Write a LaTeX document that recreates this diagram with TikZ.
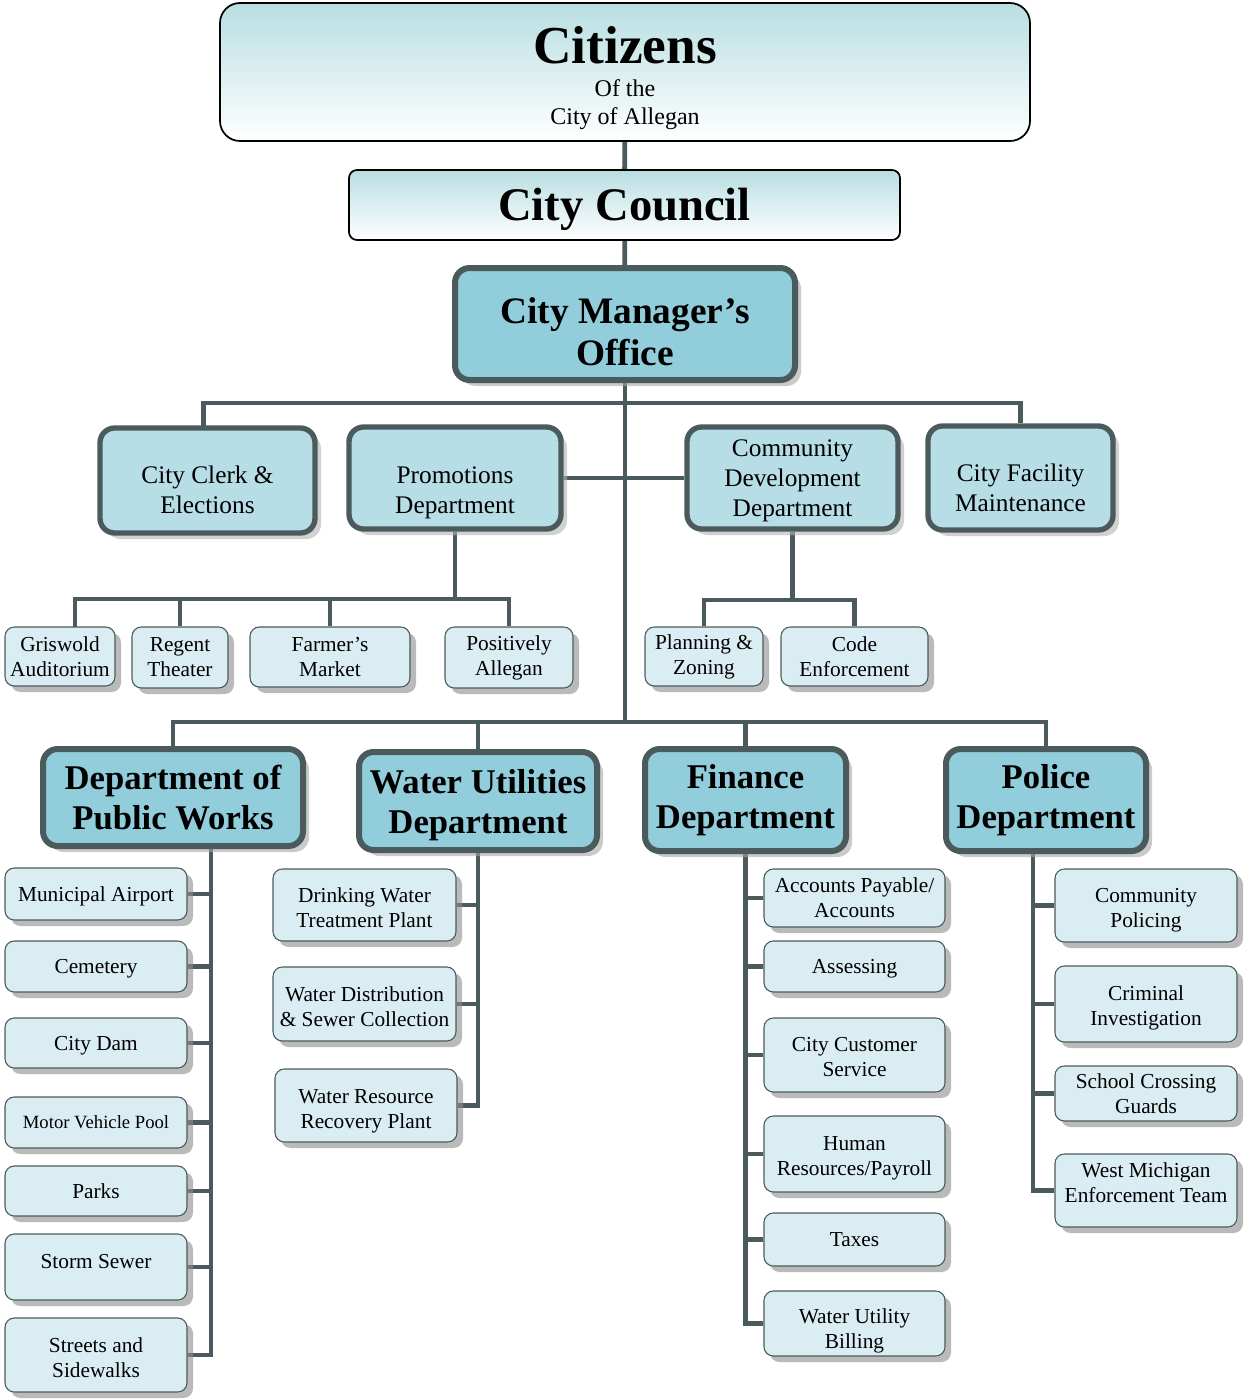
\documentclass[tikz,border=0pt]{standalone}
\usepackage{fontspec}
\setmainfont{Liberation Serif}
\usetikzlibrary{shadows,backgrounds}

\definecolor{lineslate}{HTML}{4B5A5C}
\definecolor{deptblue}{HTML}{92CDDB}
\definecolor{unitblue}{HTML}{B7DDE7}
\definecolor{leafblue}{HTML}{DAEDF2}
\definecolor{topteal}{HTML}{B8DEE2}

\tikzset{every picture/.style={line width=0.75pt}}
\tikzset{
  wh/.style 2 args={minimum width=#1*0.75pt, minimum height=#2*0.75pt},
  lift/.style={text height=#1, text depth=0pt},
  conn/.style={draw=lineslate, line width=3.6pt},
  headbox/.style={draw=black, line width=1.3pt, top color=topteal, bottom color=white, inner sep=0pt, align=center},
  chiefbox/.style={draw=lineslate, line width=4.5pt, fill=deptblue, rounded corners=11pt, inner sep=0pt, align=center,
    drop shadow={shadow xshift=4.5pt, shadow yshift=-4.5pt, fill=black!35, opacity=0.6}},
  unitbox/.style={draw=lineslate, line width=4pt, fill=unitblue, rounded corners=11pt, inner sep=0pt, align=center,
    font=\fontsize{19}{22.5}\selectfont,
    drop shadow={shadow xshift=4.5pt, shadow yshift=-4.5pt, fill=black!30, opacity=0.6}},
  leafbox/.style={draw=lineslate, line width=0.8pt, fill=leafblue, rounded corners=7pt, inner sep=0pt, align=center,
    font=\fontsize{16}{18.75}\selectfont,
    drop shadow={shadow xshift=4.5pt, shadow yshift=-4.5pt, fill=black!45, opacity=0.6}},
}

\begin{document}
\begin{tikzpicture}[x=0.75pt,y=0.75pt,yscale=-1,xscale=1]
\useasboundingbox (0,0) rectangle (1244,1399);

% Top boxes
\node[headbox, rounded corners=15pt, wh={810}{138}, font=\fontsize{18}{21}\selectfont, lift=78.7pt] (citizens) at (625,72)
  {{\fontsize{40}{40}\selectfont\bfseries Citizens}\\[4pt]Of the\\City of Allegan};
\node[headbox, rounded corners=6pt, wh={551}{70}, font=\fontsize{35}{40}\selectfont\bfseries, text depth=1.5pt] (council) at (624.5,205) {City Council};
\node[chiefbox, wh={340}{112}, font=\fontsize{28}{31.5}\selectfont\bfseries, lift=62pt] (cman) at (625,324) {City Manager’s\\Office};

% Second row
\node[unitbox, wh={215}{105}, lift=49.2pt] (clerk) at (207.5,480.5) {City Clerk \&\\Elections};
\node[unitbox, wh={212}{102}, lift=53pt] (promo) at (455,478) {Promotions\\Department};
\node[unitbox, wh={211}{102}, text depth=0pt] (cdev) at (792.5,478) {Community\\Development\\Department};
\node[unitbox, wh={185}{104}, lift=50.8pt] (facility) at (1020.5,478) {City Facility\\Maintenance};

% Promotions units
\node[leafbox, wh={110}{59}] (griswold) at (60,656.5) {Griswold\\Auditorium};
\node[leafbox, wh={96}{61}] (regent) at (180,657.5) {Regent\\Theater};
\node[leafbox, wh={160}{60}] (farmer) at (330,657) {Farmer’s\\Market};
\node[leafbox, wh={128}{61}] (positively) at (509,657.5) {Positively\\Allegan};

% Community development units
\node[leafbox, wh={118}{59}] (planning) at (704,656.5) {Planning \&\\Zoning};
\node[leafbox, wh={147}{59}] (code) at (854.5,656.5) {Code\\Enforcement};

% Departments
\node[chiefbox, wh={260}{97}, font=\fontsize{26}{30}\selectfont\bfseries] (pw) at (173,797.5) {Department of\\Public Works};
\node[chiefbox, wh={238}{98}, font=\fontsize{26}{30}\selectfont\bfseries, text depth=0pt] (water) at (478,801) {Water Utilities\\Department};
\node[chiefbox, wh={201}{102}, font=\fontsize{26}{30}\selectfont\bfseries] (finance) at (745.5,800) {Finance\\Department};
\node[chiefbox, wh={200}{102}, font=\fontsize{26}{30}\selectfont\bfseries] (police) at (1046,800) {Police\\Department};

% Public works units
\node[leafbox, wh={182}{52}, text depth=0.5pt] (airport) at (96,894) {Municipal Airport};
\node[leafbox, wh={182}{51}, text depth=0pt] (cemetery) at (96,966.5) {Cemetery};
\node[leafbox, wh={182}{50}, text depth=0pt] (dam) at (96,1043) {City Dam};
\node[leafbox, wh={182}{51}, font=\fontsize{14}{16}\selectfont] (motor) at (96,1122.5) {Motor Vehicle Pool};
\node[leafbox, wh={182}{50}] (parks) at (96,1191) {Parks};
\node[leafbox, wh={182}{66}, text depth=9pt] (storm) at (96,1267) {Storm Sewer};
\node[leafbox, wh={182}{74}, lift=34.3pt] (streets) at (96,1355) {Streets and\\Sidewalks};

% Water utilities units
\node[leafbox, wh={183}{72}, lift=34.3pt] (drinking) at (364.5,905) {Drinking Water\\Treatment Plant};
\node[leafbox, wh={183}{74}, lift=33.5pt] (distrib) at (364.5,1004) {Water Distribution\\\& Sewer Collection};
\node[leafbox, wh={182}{73}, lift=34.3pt] (recovery) at (366,1105.5) {Water Resource\\Recovery Plant};

% Finance units
\node[leafbox, wh={181}{58}] (accounts) at (854.5,898) {Accounts Payable/\\Accounts};
\node[leafbox, wh={181}{51}, text depth=0pt] (assessing) at (854.5,966.5) {Assessing};
\node[leafbox, wh={181}{74}, lift=32.8pt] (customer) at (854.5,1055) {City Customer\\Service};
\node[leafbox, wh={181}{76}, lift=32pt] (hr) at (854.5,1154) {Human\\Resources/Payroll};
\node[leafbox, wh={181}{53}] (taxes) at (854.5,1239.5) {Taxes};
\node[leafbox, wh={181}{65}, lift=38pt] (billing) at (854.5,1323.5) {Water Utility\\Billing};

% Police units
\node[leafbox, wh={182}{73}, lift=32.8pt] (policing) at (1146,905.5) {Community\\Policing};
\node[leafbox, wh={182}{76}, lift=32.8pt] (criminal) at (1146,1004) {Criminal\\Investigation};
\node[leafbox, wh={182}{55}] (school) at (1146,1093.5) {School Crossing\\Guards};
\node[leafbox, wh={182}{73}, text depth=12pt] (westmi) at (1146,1190.5) {West Michigan\\Enforcement Team};

% Connectors
\begin{scope}[on background layer]
\coordinate (topbus) at (625,403);
\coordinate (promobus) at (455,599);
\coordinate (cdevbus) at (793,600);
\coordinate (deptbus) at (625,722);
\coordinate (pwtrunk) at (211,800);
\coordinate (poltrunk) at (1033,800);

\draw[conn] (citizens) -- (council);
\draw[conn] (council) -- (cman);
\draw[conn] (cman) -- (cman |- deptbus);
\draw[conn] ([xshift=-3pt]clerk.center) |- (topbus) -| (facility);
\draw[conn] (promo) -- (cdev);

\draw[conn] (promo) -- (promo |- promobus);
\draw[conn] ([xshift=11.25pt]griswold.center) |- (promobus) -| (positively);
\draw[conn] (regent) -- (regent |- promobus);
\draw[conn] (farmer) -- (farmer |- promobus);

\draw[conn] (cdev) -- (cdev |- cdevbus);
\draw[conn] (planning) |- (cdevbus) -| (code);

\draw[conn] (pw) |- (deptbus) -| (police);
\draw[conn] (water) -- (water |- deptbus);
\draw[conn] (finance) -- (finance |- deptbus);

\draw[conn] (pwtrunk) |- (streets);
\foreach \n in {airport,cemetery,dam,motor,parks,storm}
  \draw[conn] (\n) -- (\n -| pwtrunk);

\draw[conn] (water) |- (recovery);
\foreach \n in {drinking,distrib}
  \draw[conn] (\n) -- (\n -| water);

\draw[conn] (finance) |- (billing);
\foreach \n in {accounts,assessing,customer,hr,taxes}
  \draw[conn] (\n) -- (\n -| finance);

\draw[conn] (poltrunk) |- (westmi);
\foreach \n in {policing,criminal,school}
  \draw[conn] (\n) -- (\n -| poltrunk);
\end{scope}

\end{tikzpicture}
\end{document}
